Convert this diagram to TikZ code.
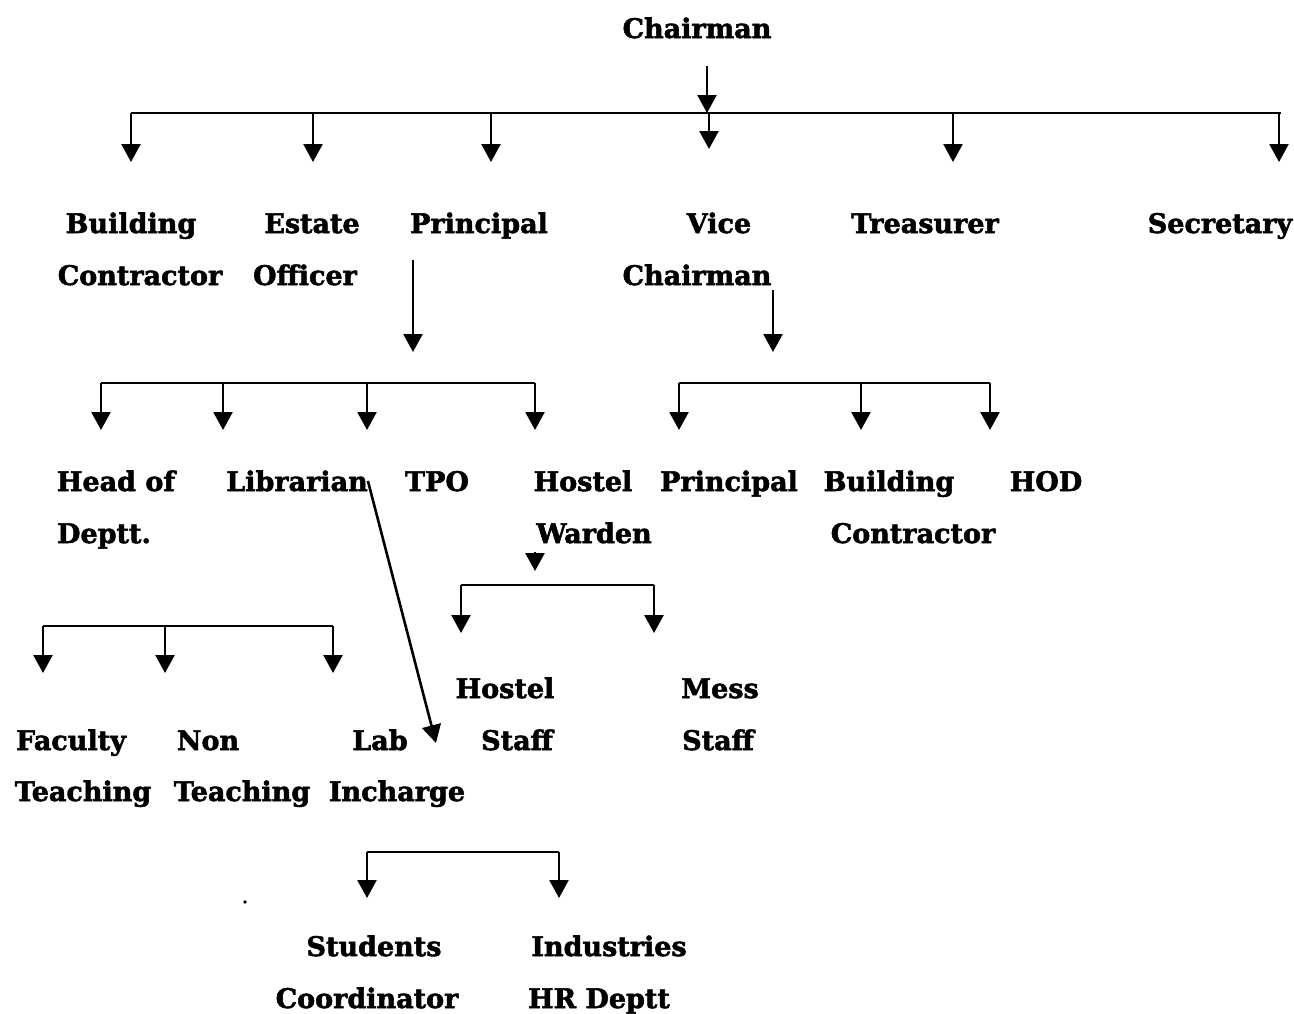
\documentclass[tikz,border=0pt]{standalone}
\usepackage{fontspec}
\newfontfamily\orgfont{DejaVu Serif Bold}[FakeBold=2]
\usetikzlibrary{arrows.meta}

\begin{document}
\begin{tikzpicture}[x=1pt,y=-1pt]
			\tikzstyle{every node}=[font=\fontsize{27}{30}\orgfont, inner sep=0pt, anchor=base];
			\tikzstyle{arr}=[line width=2.6pt, -{Triangle[length=18pt,width=19pt]}];
			\tikzstyle{bar}=[line width=1.8pt];
			\useasboundingbox (0,0) rectangle (1294,1013);
			
			%Level 1
			\node (chair) at (697,38) {Chairman};
			\coordinate (c0) at (707,66);
			\coordinate (c1) at (707,113);
			\draw[arr] (c0) -- (c1);
			\coordinate (l1a) at (131,113);
			\coordinate (l1b) at (1281,113);
			\draw[bar] (l1a) -- (l1b);
			\foreach \n/\x/\y in {bc/131/162, eo/313/162, pr/491/162, vc/709/149, tr/953/162, se/1279/162}
			{
				\coordinate (\n t) at (\x,113);
				\coordinate (\n a) at (\x,\y);
				\draw[arr] (\n t) -- (\n a);
			}
			
			%Level 2
			\node (bc1) at (131,233) {Building};
			\node (bc2) at (140,285) {Contractor};
			\node (eo1) at (312,233) {Estate};
			\node (eo2) at (305,285) {Officer};
			\node (pr1) at (479,233) {Principal};
			\node (vc1) at (719,233) {Vice};
			\node (vc2) at (697,285) {Chairman};
			\node (tr1) at (925,233) {Treasurer};
			\node (se1) at (1220,233) {Secretary};
			
			%Lines
			\coordinate (p0) at (413,260);
			\coordinate (p1) at (413,352);
			\draw[arr] (p0) -- (p1);
			\coordinate (v0) at (773,290);
			\coordinate (v1) at (773,352);
			\draw[arr] (v0) -- (v1);
			\coordinate (l2a) at (101,383);
			\coordinate (l2b) at (535,383);
			\draw[bar] (l2a) -- (l2b);
			\coordinate (l2c) at (679,383);
			\coordinate (l2d) at (990,383);
			\draw[bar] (l2c) -- (l2d);
			\foreach \n/\x in {hd/101, li/223, tp/367, hw/535, pp/679, bd/861, ho/990}
			{
				\coordinate (\n t) at (\x,383);
				\coordinate (\n a) at (\x,430);
				\draw[arr] (\n t) -- (\n a);
			}
			
			%Level 3
			\node (hd1) at (116,491) {Head of};
			\node (hd2) at (104,543) {Deptt.};
			\node (lib) at (297,491) {Librarian};
			\node (tpo) at (437,491) {TPO};
			\node (hw1) at (583,491) {Hostel};
			\node (hw2) at (594,543) {Warden};
			\node (pp1) at (729,491) {Principal};
			\node (bd1) at (889,491) {Building};
			\node (bd2) at (913,543) {Contractor};
			\node (hod) at (1046,491) {HOD};
			
			%Lines
			\coordinate (w0) at (535,552);
			\coordinate (w1) at (535,571);
			\draw[arr] (w0) -- (w1);
			\coordinate (l3a) at (461,585);
			\coordinate (l3b) at (654,585);
			\draw[bar] (l3a) -- (l3b);
			\foreach \n/\x in {hs/461, ms/654}
			{
				\coordinate (\n t) at (\x,585);
				\coordinate (\n a) at (\x,633);
				\draw[arr] (\n t) -- (\n a);
			}
			\coordinate (l4a) at (43,626);
			\coordinate (l4b) at (333,626);
			\draw[bar] (l4a) -- (l4b);
			\foreach \n/\x in {ft/43, nt/165, lc/333}
			{
				\coordinate (\n t) at (\x,626);
				\coordinate (\n a) at (\x,673);
				\draw[arr] (\n t) -- (\n a);
			}
			\coordinate (labx) at (436,743);
			\draw[arr] (lib.east) -- (labx);
			
			%Level 4
			\node (hs1) at (505,698) {Hostel};
			\node (hs2) at (517,750) {Staff};
			\node (ms1) at (720,698) {Mess};
			\node (ms2) at (718,750) {Staff};
			\node (ft1) at (71,750) {Faculty};
			\node (ft2) at (83,801) {Teaching};
			\node (nt1) at (208,750) {Non};
			\node (nt2) at (242,801) {Teaching};
			\node (lc1) at (380,750) {Lab};
			\node (lc2) at (397,801) {Incharge};
			
			%Lines
			\coordinate (l5a) at (367,852);
			\coordinate (l5b) at (559,852);
			\draw[bar] (l5a) -- (l5b);
			\foreach \n/\x in {sc/367, ih/559}
			{
				\coordinate (\n t) at (\x,852);
				\coordinate (\n a) at (\x,898);
				\draw[arr] (\n t) -- (\n a);
			}
			\fill (245,902) circle(1.8pt);
			
			%Level 5
			\node (sc1) at (374,956) {Students};
			\node (sc2) at (367,1008) {Coordinator};
			\node (ih1) at (609,956) {Industries};
			\node (ih2) at (599,1008) {HR Deptt};
\end{tikzpicture}
\end{document}
